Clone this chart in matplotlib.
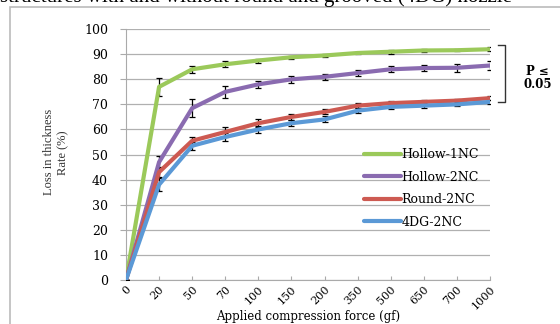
import numpy as np
import matplotlib.pyplot as plt
from matplotlib.patches import Rectangle
from matplotlib.lines import Line2D

forces = ['0', '20', '50', '70', '100', '150', '200', '350', '500', '650', '700', '1000']

hollow_1nc = [0, 77, 84, 86, 87.5, 88.8, 89.5, 90.5, 91, 91.5, 91.6, 92]
hollow_2nc = [0, 47, 68.5, 75, 78, 80, 81, 82.5, 84, 84.5, 84.6, 85.5]
round_2nc = [0, 43, 55.5, 59, 62.5, 65, 67, 69.5, 70.5, 71, 71.5, 72.5]
dg4_2nc = [0, 38, 53.5, 57, 60, 62.5, 64, 67.5, 69, 69.5, 70, 71]

err_hollow_1nc = [0, 3.5, 1.5, 1.2, 0.8, 0.5, 0.5, 0.5, 0.8, 0.5, 0.5, 0.8]
err_hollow_2nc = [0, 2.5, 3.5, 2.5, 1.5, 1.5, 1.2, 1.2, 1.2, 1.2, 1.5, 1.8]
err_round_2nc = [0, 2, 1.5, 2, 1.5, 1.2, 1, 1, 1, 0.8, 0.8, 0.8]
err_dg4_2nc = [0, 2.5, 1.5, 1.5, 1.5, 1.2, 1.2, 1, 1, 1, 0.8, 0.8]

series = [
    ('Hollow-1NC', hollow_1nc, err_hollow_1nc, '#9BC95A'),
    ('Hollow-2NC', hollow_2nc, err_hollow_2nc, '#8A6BB0'),
    ('Round-2NC', round_2nc, err_round_2nc, '#CD5A52'),
    ('4DG-2NC', dg4_2nc, err_dg4_2nc, '#5B99D6'),
]

plt.rcParams['font.family'] = 'DejaVu Serif'

fig = plt.figure(figsize=(5.6, 3.24), dpi=100)
ax = fig.add_axes([0.225, 0.136, 0.65, 0.774])

x = np.arange(len(forces))
handles = []
for name, vals, err, col in series:
    ax.errorbar(x, vals, yerr=err, color=col, lw=3, ecolor='black',
                elinewidth=0.9, capsize=2.5, capthick=0.9,
                solid_capstyle='round', zorder=3)
    handles.append(Line2D([], [], color=col, lw=3, solid_capstyle='round', label=name))

ax.set_xlim(0, len(forces) - 1)
ax.set_ylim(0, 100)
ax.set_yticks(np.arange(0, 101, 10))
ax.set_xticks(x)
ax.set_xticklabels(forces, rotation=45, ha='right', rotation_mode='anchor', fontsize=8)
ax.tick_params(axis='y', labelsize=9, length=4, color='#aaaaaa', pad=9)
ax.tick_params(axis='x', length=3, color='#aaaaaa', direction='in', pad=3)
ax.grid(axis='y', color='#b0b0b0', lw=0.9)
ax.set_axisbelow(True)
for side in ['top', 'right']:
    ax.spines[side].set_visible(False)
for side in ['left', 'bottom']:
    ax.spines[side].set_color('#aaaaaa')

ax.set_xlabel('Applied compression force (gf)', fontsize=8.5, labelpad=-1)
fig.text(0.1, 0.53, 'Loss in thickness\nRate (%)', rotation=90, ha='center',
         va='center', fontsize=9, family='Liberation Serif', color='#333333',
         linespacing=1.3)

ax.legend(handles=handles, loc='lower right', bbox_to_anchor=(1.0, 0.16), frameon=False,
          fontsize=9, handlelength=3.0, handletextpad=0.0, labelspacing=0.75)

# bracket for significance
fig.add_artist(Line2D([0.89, 0.902, 0.902, 0.89], [0.861, 0.861, 0.685, 0.685],
                      color='#333333', lw=1))
fig.text(0.96, 0.76, 'P ≤\n0.05', ha='center', va='center', fontsize=8.5,
         fontweight='bold', linespacing=1.0)

# frame and cut caption
fig.add_artist(Rectangle((0.018, -0.1), 1.2, 1.078, transform=fig.transFigure,
                         fill=False, ec='#bbbbbb', lw=1.2))
fig.text(0.0, 1.01, 'structures with and without round and grooved (4DG) nozzle',
         ha='left', va='center', fontsize=15, family='Liberation Serif')

fig.savefig('out.png', dpi=100)
